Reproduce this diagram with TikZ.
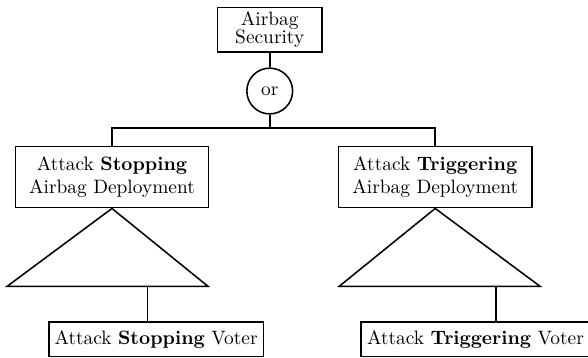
\documentclass[tikz,border=0pt]{standalone}
\usetikzlibrary{calc}

\begin{document}
\begin{tikzpicture}
	[-,thick,every node/.style={draw,thick,align=center,inner sep=0pt},
	 goalbox/.style={shape=rectangle,minimum height=1.11cm,minimum width=3.5cm},
	 voterbox/.style={shape=rectangle,minimum height=0.62cm,inner xsep=3pt}]
	\useasboundingbox (0,0) rectangle (10.66,-6.49);
	\node[shape=rectangle,minimum width=1.89cm,minimum height=0.8cm] (root) at (4.89,-0.54) {Airbag\\[-2.5pt]Security};
	\node[shape=circle,minimum size=0.83cm] (or) at (4.89,-1.65) {or};
	
	\node[goalbox] (stop) at (2.03,-3.21) {Attack \textbf{Stopping}\\Airbag Deployment};
	\node[goalbox] (trig) at (7.89,-3.21) {Attack \textbf{Triggering}\\Airbag Deployment};
	
	\node[voterbox] (stopV) at (2.83,-6.15) {Attack \textbf{Stopping} Voter};
	\node[voterbox] (trigV) at (8.62,-6.15) {Attack \textbf{Triggering} Voter};
	
	\coordinate (bar) at (4.89,-2.32);
	\coordinate (stopT) at (2.67,-5.19);
	\coordinate (trigT) at (8.99,-5.19);
	
	\draw (root) -- (or);
	\draw (or) -- (bar);
	\draw (stop.north) |- (bar) -| (trig.north);
	
	% triangles below the two goals
	\draw (stop.south) -- (0.13,-5.19) -- (3.77,-5.19) -- cycle;
	\draw (trig.south) -- (6.15,-5.19) -- (9.79,-5.19) -- cycle;
	
	\path
	\foreach \startNode/\endNode in {stopT/stopV, trigT/trigV}
	{
		(\startNode) edge[-,thick] (\startNode |- \endNode.north)
	};
\end{tikzpicture}
\end{document}
